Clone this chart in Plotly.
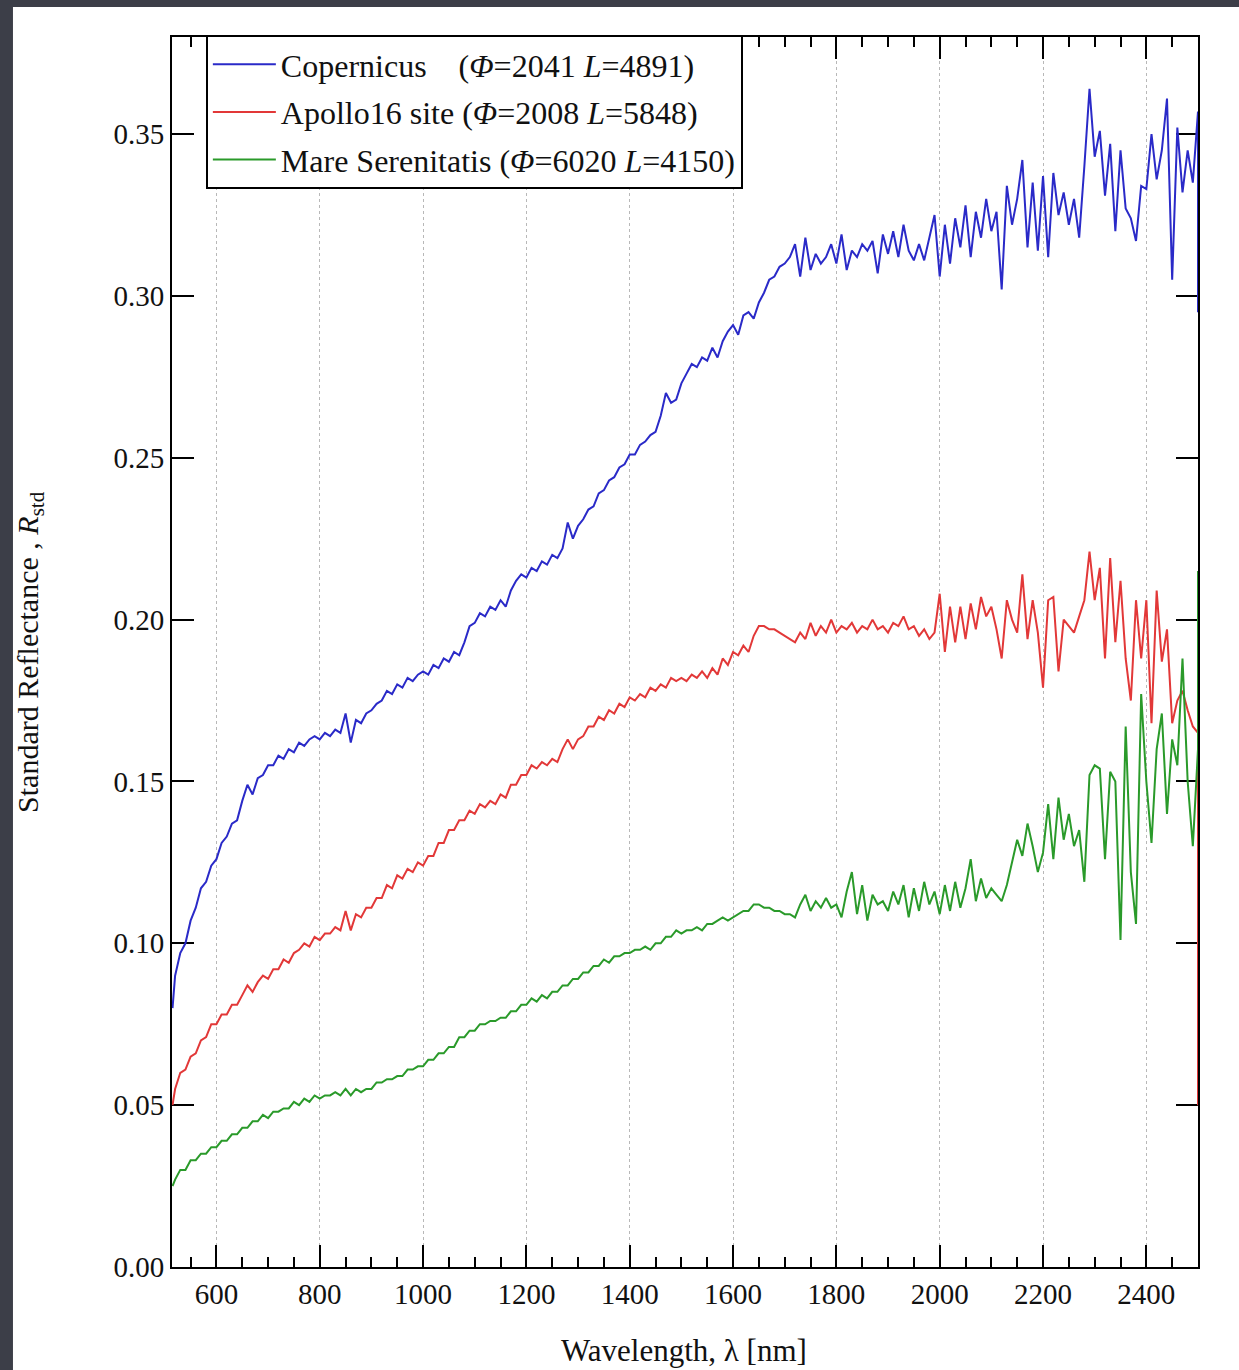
import plotly.graph_objects as go

# Wavelength grid [nm]
wavelength = [515] + list(range(520, 2501, 10))

copernicus = [
    0.080,
    0.090, 0.097, 0.100, 0.107, 0.111, 0.117, 0.119, 0.124,
    0.126, 0.131, 0.133, 0.137, 0.138, 0.144, 0.149, 0.146, 0.151, 0.152,
    0.155, 0.155, 0.158, 0.157, 0.160, 0.159, 0.162, 0.161, 0.163, 0.164,
    0.163, 0.165, 0.164, 0.166, 0.165, 0.171, 0.162, 0.169, 0.168, 0.171,
    0.172, 0.174, 0.175, 0.178, 0.177, 0.180, 0.179, 0.182, 0.181, 0.183,
    0.184, 0.183, 0.186, 0.185, 0.188, 0.187, 0.190, 0.189, 0.193, 0.198,
    0.199, 0.202, 0.201, 0.204, 0.203, 0.206, 0.204, 0.209, 0.212, 0.214,
    0.213, 0.216, 0.215, 0.218, 0.217, 0.220, 0.219, 0.222, 0.230, 0.225,
    0.229, 0.231, 0.234, 0.235, 0.239, 0.240, 0.243, 0.244, 0.247, 0.248,
    0.251, 0.251, 0.254, 0.255, 0.257, 0.258, 0.263, 0.270, 0.267, 0.268,
    0.273, 0.276, 0.279, 0.278, 0.281, 0.280, 0.284, 0.281, 0.286, 0.289,
    0.291, 0.288, 0.294, 0.295, 0.293, 0.298, 0.301, 0.305, 0.306, 0.309,
    0.310, 0.312, 0.316, 0.306, 0.318, 0.308, 0.313, 0.310, 0.312, 0.316,
    0.310, 0.319, 0.308, 0.314, 0.312, 0.316, 0.314, 0.317, 0.307, 0.319,
    0.313, 0.320, 0.312, 0.322, 0.314, 0.311, 0.316, 0.311, 0.318, 0.325,
    0.306, 0.322, 0.310, 0.324, 0.315, 0.328, 0.312, 0.326, 0.318, 0.330,
    0.320, 0.326, 0.302, 0.334, 0.322, 0.330, 0.342, 0.315, 0.335, 0.314,
    0.337, 0.312, 0.338, 0.325, 0.332, 0.322, 0.330, 0.318, 0.340, 0.364,
    0.343, 0.351, 0.331, 0.347, 0.320, 0.345, 0.327, 0.324, 0.317, 0.334,
    0.333, 0.350, 0.336, 0.345, 0.361, 0.305, 0.352, 0.332, 0.345, 0.335,
    0.357,
]
copernicus_edge = 0.295

apollo16 = [
    0.050,
    0.055, 0.060, 0.061, 0.065, 0.066, 0.070, 0.071, 0.075,
    0.075, 0.078, 0.078, 0.081, 0.081, 0.084, 0.087, 0.085, 0.088, 0.090,
    0.089, 0.092, 0.092, 0.095, 0.094, 0.097, 0.098, 0.100, 0.099, 0.102,
    0.101, 0.103, 0.103, 0.105, 0.104, 0.110, 0.104, 0.109, 0.108, 0.111,
    0.111, 0.114, 0.114, 0.118, 0.117, 0.121, 0.120, 0.123, 0.122, 0.125,
    0.124, 0.127, 0.127, 0.131, 0.131, 0.135, 0.135, 0.138, 0.138, 0.141,
    0.140, 0.143, 0.142, 0.144, 0.143, 0.146, 0.145, 0.149, 0.149, 0.152,
    0.152, 0.155, 0.154, 0.156, 0.155, 0.157, 0.156, 0.160, 0.163, 0.160,
    0.163, 0.164, 0.167, 0.167, 0.170, 0.169, 0.172, 0.171, 0.174, 0.173,
    0.176, 0.175, 0.177, 0.176, 0.179, 0.178, 0.180, 0.179, 0.182, 0.181,
    0.182, 0.181, 0.183, 0.182, 0.184, 0.182, 0.185, 0.183, 0.188, 0.186,
    0.190, 0.189, 0.192, 0.190, 0.195, 0.198, 0.198, 0.197, 0.197, 0.196,
    0.195, 0.194, 0.193, 0.196, 0.194, 0.199, 0.195, 0.198, 0.196, 0.200,
    0.196, 0.198, 0.197, 0.199, 0.196, 0.198, 0.197, 0.200, 0.197, 0.198,
    0.196, 0.199, 0.198, 0.201, 0.197, 0.198, 0.195, 0.197, 0.194, 0.196,
    0.208, 0.190, 0.204, 0.193, 0.204, 0.194, 0.205, 0.197, 0.207, 0.201,
    0.204, 0.197, 0.188, 0.206, 0.200, 0.196, 0.214, 0.194, 0.206, 0.196,
    0.179, 0.206, 0.207, 0.184, 0.200, 0.198, 0.196, 0.201, 0.206, 0.221,
    0.206, 0.216, 0.188, 0.219, 0.193, 0.212, 0.188, 0.175, 0.206, 0.188,
    0.206, 0.168, 0.209, 0.187, 0.197, 0.168, 0.175, 0.178, 0.172, 0.167,
    0.165,
]
apollo16_edge = 0.050

serenitatis = [
    0.025,
    0.027, 0.030, 0.030, 0.033, 0.033, 0.035, 0.035, 0.037,
    0.037, 0.039, 0.039, 0.041, 0.041, 0.043, 0.043, 0.045, 0.045, 0.047,
    0.046, 0.048, 0.048, 0.049, 0.049, 0.051, 0.050, 0.052, 0.051, 0.053,
    0.052, 0.053, 0.053, 0.054, 0.053, 0.055, 0.053, 0.055, 0.054, 0.055,
    0.055, 0.057, 0.057, 0.058, 0.058, 0.059, 0.059, 0.061, 0.061, 0.062,
    0.062, 0.064, 0.064, 0.066, 0.066, 0.068, 0.068, 0.071, 0.071, 0.073,
    0.073, 0.075, 0.075, 0.076, 0.076, 0.077, 0.077, 0.079, 0.079, 0.081,
    0.081, 0.083, 0.082, 0.084, 0.083, 0.085, 0.085, 0.087, 0.087, 0.089,
    0.089, 0.091, 0.091, 0.093, 0.093, 0.095, 0.094, 0.096, 0.096, 0.097,
    0.097, 0.098, 0.098, 0.099, 0.098, 0.100, 0.100, 0.102, 0.102, 0.104,
    0.103, 0.104, 0.104, 0.105, 0.104, 0.106, 0.106, 0.107, 0.108, 0.107,
    0.108, 0.109, 0.110, 0.110, 0.112, 0.112, 0.111, 0.111, 0.110, 0.110,
    0.109, 0.109, 0.108, 0.112, 0.115, 0.110, 0.113, 0.111, 0.114, 0.111,
    0.112, 0.108, 0.116, 0.122, 0.109, 0.118, 0.107, 0.115, 0.112, 0.113,
    0.110, 0.116, 0.112, 0.118, 0.108, 0.117, 0.110, 0.119, 0.112, 0.116,
    0.109, 0.118, 0.110, 0.119, 0.111, 0.117, 0.126, 0.113, 0.120, 0.114,
    0.117, 0.115, 0.113, 0.118, 0.125, 0.132, 0.127, 0.137, 0.130, 0.122,
    0.128, 0.143, 0.126, 0.145, 0.132, 0.140, 0.130, 0.135, 0.119, 0.152,
    0.155, 0.154, 0.126, 0.153, 0.150, 0.101, 0.167, 0.122, 0.106, 0.177,
    0.150, 0.131, 0.160, 0.171, 0.140, 0.163, 0.155, 0.188, 0.150, 0.130,
    0.160,
]
serenitatis_edge = 0.215

series_names = [
    "Copernicus\u00a0\u00a0\u00a0\u00a0(<i>Φ</i>=2041 <i>L</i>=4891)",
    "Apollo16 site (<i>Φ</i>=2008 <i>L</i>=5848)",
    "Mare Serenitatis (<i>Φ</i>=6020 <i>L</i>=4150)",
]
series_values = [copernicus, apollo16, serenitatis]
series_edges = [copernicus_edge, apollo16_edge, serenitatis_edge]
series_colors = ["#2a2ac8", "#e23838", "#2a9a2a"]

FONT = "Liberation Serif, Times New Roman, serif"

fig = go.Figure()
for i, (name, vals, edge, color) in enumerate(zip(series_names, series_values, series_edges, series_colors)):
    fig.add_trace(go.Scatter(
        x=wavelength + [wavelength[-1]],
        y=vals + [edge],
        mode="lines",
        name=name,
        legendgroup=f"g{i}",
        line=dict(color=color, width=2),
    ))

axis_common = dict(
    showline=True, linecolor="black", linewidth=2,
    ticks="inside", ticklen=22, tickwidth=2, tickcolor="black",
    mirror="ticks", zeroline=False, layer="below traces",
    tickfont=dict(family=FONT, size=29, color="#111111"),
)

fig.update_xaxes(
    range=[514, 2500], dtick=200, tick0=0,
    showgrid=True, gridcolor="#b8b8b8", griddash="dot", gridwidth=1.2,
    minor=dict(dtick=50, tick0=0, ticks="inside", ticklen=10, tickwidth=2,
               tickcolor="black", showgrid=False),
    **axis_common,
)
fig.update_yaxes(
    range=[0, 0.38], dtick=0.05, tick0=0, tickformat=".2f",
    showgrid=False,
    **axis_common,
)

fig.update_layout(
    width=1239, height=1370,
    margin=dict(l=172, r=41, t=37, b=103),
    paper_bgcolor="#3c3e48",
    plot_bgcolor="white",
    showlegend=True,
    legend=dict(
        x=0.033, y=1.0016, xanchor="left", yanchor="top",
        bgcolor="white", bordercolor="black", borderwidth=2,
        font=dict(family=FONT, size=32, color="#111111"),
        tracegroupgap=3, traceorder="grouped", itemwidth=63,
    ),
    shapes=[dict(
        type="rect", xref="paper", yref="paper",
        x0=-0.155, x1=1.06, y0=-0.1, y1=1.0244,
        fillcolor="white", line=dict(width=0), layer="below",
    )],
    annotations=[
        dict(text="Wavelength, λ [nm]", xref="paper", yref="paper",
             x=0.4995, y=-0.068, xanchor="center", yanchor="middle",
             showarrow=False, font=dict(family=FONT, size=31, color="#111111")),
        dict(text="Standard Reflectance , <i>R</i><sub>std</sub>", xref="paper", yref="paper",
             x=-0.1385, y=0.5, xanchor="center", yanchor="middle", textangle=-90,
             showarrow=False, font=dict(family=FONT, size=30, color="#111111")),
    ],
)

fig.write_html(
    "out.html",
    config={"displayModeBar": False},
    post_script="document.body.style.margin='0';document.body.style.padding='0';",
)
